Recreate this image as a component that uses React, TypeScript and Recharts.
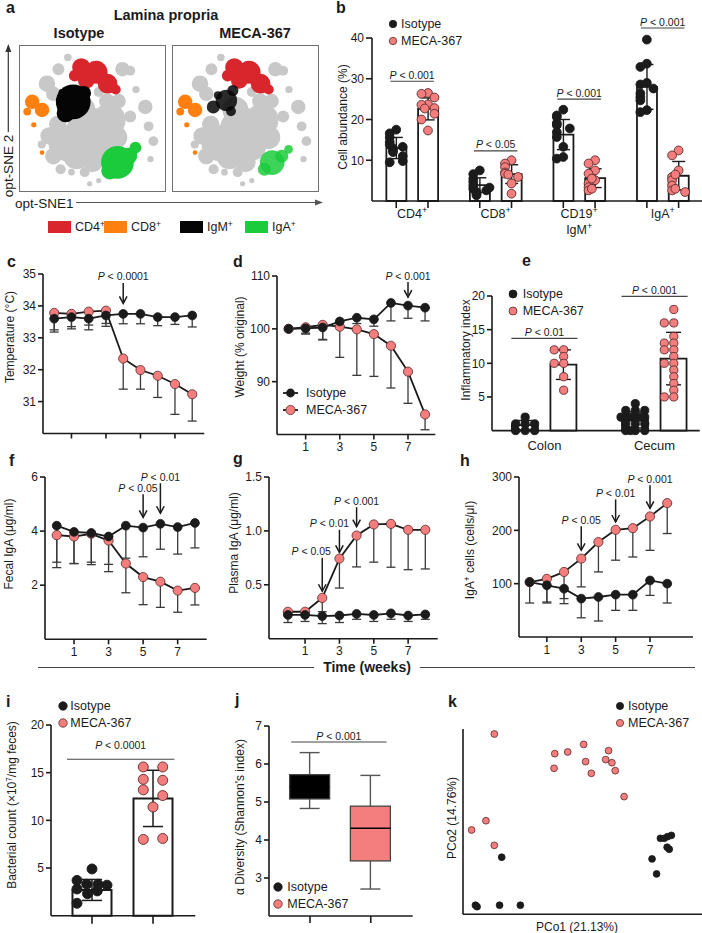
import React from 'react';
import {
  ComposedChart, ScatterChart, Line, Bar, Scatter, XAxis, YAxis, ZAxis,
  ErrorBar, ReferenceLine, ReferenceDot,
} from 'recharts';

const FONT = '"Liberation Sans", Arial, Helvetica, sans-serif';
const INK = '#1b1b1b';
const PINK = '#f47e7e';
const PINK_EDGE = '#5c2b2b';
const ERR = '#3a3a3a';
const SNE_GREY = '#c8c8c8';
const SNE_RED = '#d9262c';
const SNE_ORANGE = '#ff7f0f';
const SNE_BLACK = '#050505';
const SNE_GREEN = '#1ccb3c';

// ================= DATA =================
// ---- a: opt-SNE cluster read-outs (map units 0-100, r = cluster radius) ----
const sneGrey = [
  { x: 48, y: 42, r: 15.8 }, { x: 32, y: 33, r: 12.4 }, { x: 61.5, y: 49, r: 11.3 }, { x: 43, y: 56, r: 9 },
  { x: 39, y: 24, r: 9 }, { x: 23, y: 24, r: 5.7 }, { x: 55, y: 30, r: 9 }, { x: 20, y: 38, r: 6 },
  { x: 66, y: 37, r: 8 }, { x: 50, y: 20, r: 7 }, { x: 26.5, y: 84, r: 4.1 }, { x: 18.6, y: 74, r: 5.7 },
  { x: 23, y: 67, r: 5 }, { x: 70.6, y: 84, r: 5 }, { x: 76, y: 83, r: 3.4 }, { x: 86.4, y: 58, r: 5 },
  { x: 88.7, y: 44.6, r: 3.4 }, { x: 76, y: 51.4, r: 4.1 }, { x: 92, y: 34.4, r: 3.4 }, { x: 44.6, y: 13, r: 3.4 },
  { x: 48, y: 5, r: 1.8 }, { x: 35.5, y: 13, r: 2.3 }, { x: 54.3, y: 68.3, r: 3.4 }, { x: 54.3, y: 7.2, r: 1.8 },
  { x: 68, y: 62, r: 5 }, { x: 80, y: 70, r: 2.5 }, { x: 28, y: 15, r: 3.5 }, { x: 60, y: 62, r: 5.5 },
  { x: 15, y: 32, r: 2.8 }, { x: 90, y: 22, r: 2.2 }, { x: 33, y: 92, r: 2.6 }, { x: 26, y: 46, r: 6 },
];
const sneRed = [
  { x: 42.3, y: 85.3, r: 6.3 }, { x: 52.5, y: 81.9, r: 7.9 }, { x: 60.4, y: 74, r: 6.8 },
  { x: 45.7, y: 76.2, r: 5.7 }, { x: 37.8, y: 79.6, r: 4.1 }, { x: 66, y: 70, r: 3.5 },
];
const sneOrange = [
  { x: 8.4, y: 61.5, r: 5 }, { x: 15.2, y: 55.9, r: 5 }, { x: 5, y: 54.8, r: 2.7 },
  { x: 9.5, y: 45.7, r: 1.8 }, { x: 15.2, y: 26.5, r: 1.6 },
];
const sneBlackIso = [
  { x: 36.7, y: 61.5, r: 12 }, { x: 44, y: 67.5, r: 5 }, { x: 31.5, y: 53.6, r: 6.2 }, { x: 29, y: 68, r: 2.4 },
];
const sneBlackMeca = [
  { x: 36.8, y: 62.5, r: 7.4 }, { x: 27.8, y: 58, r: 4.5 }, { x: 41.3, y: 69.3, r: 3.8 },
  { x: 31, y: 66, r: 2.8 }, { x: 40, y: 55, r: 3.4 },
];
const sneGreenIso = [
  { x: 67.2, y: 19.7, r: 11.3 }, { x: 75.1, y: 24.2, r: 5.7 }, { x: 79.6, y: 29.9, r: 4.1 }, { x: 62, y: 14, r: 6 },
];
const sneGreenMeca = [
  { x: 68.4, y: 19.6, r: 8.5 }, { x: 75, y: 24, r: 4.5 }, { x: 79.7, y: 28.7, r: 3 }, { x: 63, y: 15, r: 4.5 },
];
const sneLegend = ['CD4', 'CD8', 'IgM', 'IgA'];

// ---- b: cell abundance (%) ----
const bCategories = ['CD4', 'CD8', 'CD19/IgM', 'IgA'];
const bIsoMean = [13.0, 3.9, 16.3, 28.0];
const bIsoSd = [2.6, 1.8, 3.7, 5.5];
const bMecaMean = [22.6, 6.6, 5.6, 6.2];
const bMecaSd = [2.7, 2.3, 2.3, 3.5];
const bIsoPoints = [
  [17.5, 16.6, 15.6, 14.5, 13.8, 13.3, 12.9, 12.5, 12.0, 11.0, 9.5, 9.8],
  [7.5, 6.6, 5.5, 4.7, 3.8, 3.0, 2.6, 2.2, 1.8, 1.4, 3.3],
  [22.4, 21.0, 20.6, 19.1, 18.6, 17.8, 16.9, 15.7, 13.3, 10.8, 10.4],
  [39.6, 33.7, 32.9, 29.0, 28.6, 27.6, 26.4, 25.5, 24.7, 22.3, 21.8],
];
const bMecaPoints = [
  [26.5, 26.3, 25.4, 23.7, 23.6, 22.8, 22.7, 21.4, 20.0, 17.3],
  [10.0, 9.2, 8.3, 7.0, 6.7, 5.9, 4.3, 1.8, 6.5],
  [10.0, 9.2, 7.5, 6.7, 5.1, 4.3, 3.4, 2.6, 5.5, 3.0],
  [12.4, 11.2, 7.5, 5.9, 5.1, 3.8, 2.6, 2.2, 3.0, 6.5],
];
const bBrackets = [
  { g: 0, y: 29.4, p: '0.001' }, { g: 1, y: 12.3, p: '0.05' },
  { g: 2, y: 25.0, p: '0.001' }, { g: 3, y: 42.45, p: '0.001' },
];

// ---- c-h: weekly time courses ----
const weeks = [0, 1, 2, 3, 4, 5, 6, 7, 8];
const weekTicks = [1, 3, 5, 7];

const tempIso = [33.6, 33.65, 33.6, 33.7, 33.75, 33.75, 33.65, 33.65, 33.7];
const tempIsoLow = [33.18, 33.28, 33.25, 33.36, 33.44, 33.44, 33.38, 33.42, 33.34];
const tempMeca = [33.78, 33.75, 33.82, 33.85, 32.35, 31.99, 31.81, 31.55, 31.23];
const tempMecaLow = [33.25, 33.35, 33.4, 33.45, 31.39, 31.39, 31.13, 30.6, 30.39];
const tempAnn = [{ x: 4, tail: 34.72, tip: 34.08, p: '0.0001' }];

const weightIso = [100, 100.1, 100.25, 101.4, 102.1, 101.8, 104.9, 104.4, 104.0];
const weightIsoLow = [100, 99.0, 97.9, 100.5, 101.0, 100.5, 101.5, 102.0, 101.5];
const weightMeca = [100, 100.3, 100.75, 100.4, 99.9, 99.0, 96.8, 91.9, 83.8];
const weightMecaLow = [100, 99.2, 98.0, 94.6, 91.2, 91.0, 88.8, 85.9, 80.9];
const weightAnn = [{ x: 7, tail: 108.86, tip: 106.0, p: '0.001' }];

const fecalIso = [4.2, 3.97, 3.93, 3.8, 4.2, 4.13, 4.27, 4.15, 4.3];
const fecalIsoLow = [2.65, 2.8, 2.85, 2.5, 3.0, 3.05, 3.33, 3.15, 3.38];
const fecalMeca = [3.85, 3.8, 3.9, 3.65, 2.8, 2.3, 2.13, 1.8, 1.9];
const fecalMecaLow = [2.85, 2.8, 2.76, 2.77, 1.72, 1.28, 1.18, 1.0, 1.27];
const fecalAnn = [
  { x: 5, tail: 5.36, tip: 4.51, p: '0.05', tx: 4.7 },
  { x: 6, tail: 5.77, tip: 4.66, p: '0.01' },
];

const plasmaIso = [0.22, 0.22, 0.21, 0.215, 0.23, 0.22, 0.235, 0.215, 0.225];
const plasmaIsoLow = [0.15, 0.16, 0.14, 0.15, 0.18, 0.16, 0.18, 0.16, 0.18];
const plasmaMeca = [0.25, 0.25, 0.378, 0.743, 0.957, 1.06, 1.065, 1.01, 1.01];
const plasmaMecaLow = [0.22, 0.22, 0.25, 0.47, 0.666, 0.71, 0.663, 0.64, 0.647];
const plasmaAnn = [
  { x: 2, tail: 0.75, tip: 0.44, p: '0.05', tx: 1.36 },
  { x: 3, tail: 1.01, tip: 0.8, p: '0.01', tx: 2.42 },
  { x: 4, tail: 1.22, tip: 1.04, p: '0.001' },
];

const cellsIso = [103, 97, 90.6, 72, 75, 79.4, 79.4, 106, 100];
const cellsIsoLow = [63.75, 63.75, 62.5, 36, 30, 50, 50, 78, 63.75];
const cellsMeca = [103, 109, 122, 147, 178, 201, 204, 226, 251];
const cellsMecaLow = [103, 65.6, 72, 94, 122, 144, 150, 162.5, 194];
const cellsAnn = [
  { x: 3, tail: 207.6, tip: 162.6, p: '0.05' },
  { x: 5, tail: 258, tip: 215.6, p: '0.01' },
  { x: 7, tail: 284.4, tip: 241.3, p: '0.001' },
];

// ---- e: inflammatory index ----
const eCategories = ['Colon', 'Cecum'];
const eIsoMean = [0.8, 1.6];
const eIsoSd = [0.7, 1.2];
const eMecaMean = [9.8, 10.7];
const eMecaSd = [2.2, 3.9];
const eIsoPoints = [
  [2, 1, 1, 1, 0, 0, 0],
  [4, 3, 3, 3, 2, 2, 2, 2, 2, 1, 1, 1, 0, 0, 0, 0, 2],
];
const eMecaPoints = [
  [12, 12, 11, 10, 10, 8, 6],
  [18, 16, 16, 14, 13, 13, 12, 12, 11, 10, 10, 9, 8, 7, 6, 5, 5],
];
const eBrackets = [{ g: 0, y: 13.7, p: '0.01' }, { g: 1, y: 19.95, p: '0.001' }];

// ---- i: bacterial count ----
const iGroups = ['Isotype', 'MECA-367'];
const iMean = [2.7, 12.3];
const iSd = [1.1, 2.95];
const iPoints = [
  [4.9, 3.7, 3.3, 3.3, 3.2, 2.8, 2.6, 2.3, 1.3],
  [15.6, 15.6, 14.3, 14.2, 13.2, 12.6, 11.4, 8.0, 8.1],
];
const iBracket = { from: -0.41, to: 1.35, y: 16.4, p: '0.0001' };

// ---- j: alpha diversity box plot ----
const jGroups = ['Isotype', 'MECA-367'];
const jMin = [4.83, 2.71];
const jQ1 = [5.08, 3.45];
const jMed = [5.4, 4.31];
const jQ3 = [5.72, 4.89];
const jMax = [6.3, 5.7];
const jBracket = { from: -0.31, to: 1.26, y: 6.58, p: '0.001' };

// ---- k: PCoA ----
const kMeca = [
  { x: 13.1, y: 97.3 }, { x: 38.4, y: 86.7 }, { x: 43.8, y: 87.6 }, { x: 50.5, y: 91.7 }, { x: 60.9, y: 88.3 },
  { x: 38.1, y: 78.8 }, { x: 51.3, y: 82.4 }, { x: 59.7, y: 83.5 }, { x: 62.3, y: 81.8 }, { x: 53.7, y: 76.1 },
  { x: 63.7, y: 77.5 }, { x: 67.4, y: 63.5 }, { x: 9.6, y: 50.5 }, { x: 3.6, y: 45.5 }, { x: 13.1, y: 37.2 },
];
const kIso = [
  { x: 16.2, y: 30.8 }, { x: 5.2, y: 4.9 }, { x: 5.9, y: 4.1 }, { x: 15.3, y: 4.9 }, { x: 24.0, y: 4.9 },
  { x: 79.1, y: 29.9 }, { x: 81.0, y: 21.8 }, { x: 82.6, y: 41.0 }, { x: 84.2, y: 41.0 }, { x: 85.6, y: 41.9 },
  { x: 87.2, y: 42.6 }, { x: 85.4, y: 36.2 }, { x: 86.3, y: 35.1 },
];

const seriesNames = ['Isotype', 'MECA-367'];

// ================= STYLE HELPERS =================
const AX = { stroke: INK, strokeWidth: 1.6 };
const TICK = { fontSize: 12, fill: INK };
const SLOT = [0, -1, 1, -0.5, 0.5, -1.5, 1.5, -2, 2];
const I_JITTER = [[0, -1, -0.35, 0.4, 1, -1, 0.35, -0.3, -1], [-1, 1, -1, 1, -1, 1, 0, -1, 1]];

function frameOf(rect: number[], p: any = {}) {
  const [x0, y0, x1, y1] = rect;
  const l = p.l ?? 40, t = p.t ?? 16, r = p.r ?? 12, b = p.b ?? 30;
  return {
    style: { position: 'absolute', left: x0 - l, top: y0 - t, width: x1 - x0 + l + r, height: y1 - y0 + t + b } as React.CSSProperties,
    width: x1 - x0 + l + r, height: y1 - y0 + t + b,
    margin: { top: t, right: r, left: 0, bottom: 0 }, yw: l, xh: b,
  };
}

function swarmSlots(vals: number[], thr: number) {
  return vals.map((v, i) => vals.slice(0, i).filter((u) => Math.abs(u - v) < thr).length);
}
function pointRows(groups: number[][], off: number, thr: number) {
  return groups.flatMap((vals, g) => {
    const s = swarmSlots(vals, thr);
    return vals.map((v, i) => ({ x: g + off, y: v, slot: s[i], k: i, g }));
  });
}
const swarmDot = (fill: string, stroke: string, r: number, step: number) => (p: any) => (
  <circle cx={p.cx + SLOT[p.payload.slot % SLOT.length] * step} cy={p.cy} r={r} fill={fill} stroke={stroke} strokeWidth={0.9} />
);
const jitterDot = (fill: string, stroke: string, r: number, step: number) => (p: any) => {
  const pat = I_JITTER[p.payload.g];
  return <circle cx={p.cx + pat[p.payload.k % pat.length] * step} cy={p.cy} r={r} fill={fill} stroke={stroke} strokeWidth={0.9} />;
};
const plainDot = (fill: string, stroke: string, r: number) => (p: any) => (
  <circle cx={p.cx} cy={p.cy} r={r} fill={fill} stroke={stroke} strokeWidth={0.8} />
);

const pLabel = (p: string, dy: number, size = 10.5) => (s: any) => (
  <text x={s.cx} y={s.cy + dy} textAnchor="middle" fontSize={size} fill={INK}>
    <tspan fontStyle="italic">P</tspan>
    <tspan>{' < ' + p}</tspan>
  </text>
);
const arrowHead = (s: any) => (
  <polyline points={`${s.cx - 3.8},${s.cy - 7} ${s.cx},${s.cy} ${s.cx + 3.8},${s.cy - 7}`} fill="none" stroke={INK} strokeWidth={1.5} />
);

function arrowAnn(list: any[], key: string) {
  return list.flatMap((a, i) => [
    <ReferenceLine key={key + 'l' + i} segment={[{ x: a.x, y: a.tail }, { x: a.x, y: a.tip }]} stroke={INK} strokeWidth={1.5} ifOverflow="visible" />,
    <ReferenceDot key={key + 'h' + i} x={a.x} y={a.tip} ifOverflow="visible" shape={arrowHead} />,
    <ReferenceDot key={key + 't' + i} x={a.tx ?? a.x} y={a.tail} ifOverflow="visible" shape={pLabel(a.p, -2.5)} />,
  ]);
}
function bracketAnn(from: number, to: number, y: number, p: string, dy: number, key: string) {
  return [
    <ReferenceLine key={key + 'l'} segment={[{ x: from, y }, { x: to, y }]} stroke="#444" strokeWidth={1.1} ifOverflow="visible" />,
    <ReferenceDot key={key + 't'} x={(from + to) / 2} y={y} ifOverflow="visible" shape={pLabel(p, dy)} />,
  ];
}

// ================= HTML TEXT HELPERS =================
function Txt({ x, base, size = 12, anchor = 'start', bold = false, children }: any) {
  return (
    <div style={{
      position: 'absolute', left: x, top: base - 0.8465 * size, fontSize: size, lineHeight: `${size}px`,
      fontWeight: bold ? 700 : 400, whiteSpace: 'nowrap', transform: anchor === 'middle' ? 'translateX(-50%)' : undefined,
    }}>{children}</div>
  );
}
function VLabel({ cx, cy, size = 12, children }: any) {
  return (
    <div style={{
      position: 'absolute', left: cx, top: cy, fontSize: size, lineHeight: `${size}px`, whiteSpace: 'nowrap',
      transform: 'translate(-50%, -50%) rotate(-90deg)',
    }}>{children}</div>
  );
}
const Sup = ({ children }: any) => (
  <span style={{ fontSize: '0.68em', position: 'relative', top: '-0.5em' }}>{children}</span>
);
function Letter({ x, base, ch }: any) {
  return <Txt x={x} base={base} size={16} bold>{ch}</Txt>;
}
function DotLegend({ cx, cy, gap, textDx, r, size = 12.5 }: any) {
  return (
    <>
      {seriesNames.map((n, i) => (
        <React.Fragment key={n}>
          <svg style={{ position: 'absolute', left: cx - 8, top: cy + i * gap - 8 }} width={16} height={16}>
            <circle cx={8} cy={8} r={r} fill={i === 0 ? INK : PINK} stroke={i === 0 ? INK : PINK_EDGE} strokeWidth={0.8} />
          </svg>
          <Txt x={cx + textDx} base={cy + i * gap + 0.36 * size} size={size}>{n}</Txt>
        </React.Fragment>
      ))}
    </>
  );
}

// ================= PANELS =================
function SneMap({ left, black, green, fade }: any) {
  const rows = (arr: any[]) => arr.map((d) => ({ x: d.x, y: d.y, z: d.r * d.r }));
  return (
    <div style={{ position: 'absolute', left, top: 45, width: 147, height: 147, border: '1px solid #707070', boxSizing: 'border-box' }}>
      <ScatterChart width={145} height={145} margin={{ top: 0, right: 0, bottom: 0, left: 0 }}>
        <XAxis type="number" dataKey="x" domain={[0, 100]} hide />
        <YAxis type="number" dataKey="y" domain={[0, 100]} hide />
        <ZAxis type="number" dataKey="z" domain={[0, 400]} range={[0, 400 * 6.6]} />
        <Scatter data={rows(sneGrey)} fill={SNE_GREY} isAnimationActive={false} />
        <Scatter data={rows(sneRed)} fill={SNE_RED} isAnimationActive={false} />
        <Scatter data={rows(sneOrange)} fill={SNE_ORANGE} isAnimationActive={false} />
        <Scatter data={rows(black)} fill={SNE_BLACK} fillOpacity={fade} isAnimationActive={false} />
        <Scatter data={rows(green)} fill={SNE_GREEN} fillOpacity={fade} isAnimationActive={false} />
      </ScatterChart>
    </div>
  );
}

function PanelA() {
  const legendX = [48, 104, 180, 245];
  const legendColors = [SNE_RED, SNE_ORANGE, SNE_BLACK, SNE_GREEN];
  return (
    <>
      <Letter x={6} base={14} ch="a" />
      <Txt x={166} base={20.7} size={14.5} bold anchor="middle">Lamina propria</Txt>
      <Txt x={79} base={38.3} size={14.5} bold anchor="middle">Isotype</Txt>
      <Txt x={255} base={38.3} size={14.5} bold anchor="middle">MECA-367</Txt>
      <SneMap left={19} black={sneBlackIso} green={sneGreenIso} fade={1} />
      <SneMap left={172} black={sneBlackMeca} green={sneGreenMeca} fade={0.85} />
      <svg style={{ position: 'absolute', left: 0, top: 0 }} width={330} height={215}>
        <line x1={8.3} y1={132} x2={8.3} y2={49} stroke="#333" strokeWidth={1.2} />
        <polygon points="8.3,44 5.3,52 11.3,52" fill="#333" />
        <line x1={76} y1={202.5} x2={318} y2={202.5} stroke="#555" strokeWidth={1.2} />
        <polygon points="323,202.5 315,199.5 315,205.5" fill="#555" />
      </svg>
      <VLabel cx={8.5} cy={166} size={13.5}>opt-SNE 2</VLabel>
      <Txt x={15} base={208} size={13.5}>opt-SNE1</Txt>
      {sneLegend.map((n, i) => (
        <React.Fragment key={n}>
          <div style={{ position: 'absolute', left: legendX[i], top: 221, width: 23, height: 12, background: legendColors[i] }} />
          <Txt x={legendX[i] + 27} base={231.5} size={12.5}>{n}<Sup>+</Sup></Txt>
        </React.Fragment>
      ))}
    </>
  );
}

function PanelB() {
  const f = frameOf([372, 37.7, 702, 200.7], { t: 40, r: 4, b: 42 });
  const OFF = 0.19;
  const rows = bCategories.flatMap((_, g) => [
    { x: g - OFF, mean: bIsoMean[g], sd: bIsoSd[g] },
    { x: g + OFF, mean: bMecaMean[g], sd: bMecaSd[g] },
  ]);
  const labelShape = (lines: string[]) => (s: any) => (
    <g>
      {lines.map((ln, li) => (
        <text key={li} x={s.cx} y={s.cy + 17 + li * 16} textAnchor="middle" fontSize={12.5} fill={INK}>
          {ln}<tspan dy={-5} fontSize={9}>+</tspan>
        </text>
      ))}
    </g>
  );
  return (
    <div style={f.style}>
      <ComposedChart width={f.width} height={f.height} margin={f.margin} data={rows}>
        <XAxis type="number" dataKey="x" domain={[-0.48, 3.47]} ticks={rows.map((r) => r.x)} interval={0}
          tickSize={7} tickFormatter={() => ''} height={f.xh} axisLine={AX} tickLine={AX} />
        <YAxis type="number" domain={[0, 40]} ticks={[10, 20, 30, 40]} interval={0} width={f.yw}
          tickSize={6} axisLine={AX} tickLine={AX} tick={TICK} />
        <Bar dataKey="mean" barSize={20} fill="#fff" stroke={INK} strokeWidth={1.8} isAnimationActive={false}>
          <ErrorBar dataKey="sd" direction="y" width={6.5} stroke={INK} strokeWidth={1.4} />
        </Bar>
        <Scatter data={pointRows(bIsoPoints, -OFF, 1.6)} dataKey="y" isAnimationActive={false} shape={swarmDot(INK, INK, 4.4, 6.5)} />
        <Scatter data={pointRows(bMecaPoints, OFF, 1.6)} dataKey="y" isAnimationActive={false} shape={swarmDot(PINK, PINK_EDGE, 4.4, 6.5)} />
        {bBrackets.flatMap((br, i) => bracketAnn(br.g - 0.26, br.g + 0.26, br.y, br.p, -2.5, 'b' + i))}
        {bCategories.map((c, g) => (
          <ReferenceDot key={'bc' + g} x={g} y={0} ifOverflow="visible" shape={labelShape(c.split('/'))} />
        ))}
      </ComposedChart>
    </div>
  );
}

function TimeCourse({ rect, xDomain, yDomain, yTicks, fmt, iso, isoLow, meca, mecaLow, ann, xLabels, id }: any) {
  const f = frameOf(rect, {});
  const rows = weeks.map((w, i) => ({
    x: w, iso: iso[i], isoErr: [iso[i] - isoLow[i], 0], meca: meca[i], mecaErr: [meca[i] - mecaLow[i], 0],
  }));
  return (
    <div style={f.style}>
      <ComposedChart width={f.width} height={f.height} margin={f.margin} data={rows}>
        <XAxis type="number" dataKey="x" domain={xDomain} ticks={weekTicks} interval={0} tickSize={5} tickMargin={3}
          height={f.xh} axisLine={AX} tickLine={AX} tick={TICK} tickFormatter={xLabels ? undefined : () => ''} />
        <YAxis type="number" domain={yDomain} ticks={yTicks} interval={0} width={f.yw} tickSize={5} tickMargin={2}
          axisLine={AX} tickLine={AX} tick={TICK} tickFormatter={fmt} />
        <Line dataKey="meca" stroke={INK} strokeWidth={1.8} isAnimationActive={false} activeDot={false}
          dot={{ r: 4.6, fill: PINK, stroke: PINK_EDGE, strokeWidth: 0.8 }}>
          <ErrorBar dataKey="mecaErr" direction="y" width={4.5} stroke={ERR} strokeWidth={1.3} />
        </Line>
        <Line dataKey="iso" stroke={INK} strokeWidth={1.8} isAnimationActive={false} activeDot={false}
          dot={{ r: 4.4, fill: INK, stroke: INK, strokeWidth: 0.8 }}>
          <ErrorBar dataKey="isoErr" direction="y" width={4.5} stroke={ERR} strokeWidth={1.3} />
        </Line>
        {arrowAnn(ann, id)}
      </ComposedChart>
    </div>
  );
}

function PanelE() {
  const f = frameOf([492.3, 295.7, 700, 430.3], { r: 2 });
  const OFF = 0.175;
  const rows = eCategories.flatMap((_, g) => [
    { x: g - OFF, mean: eIsoMean[g], sd: eIsoSd[g] },
    { x: g + OFF, mean: eMecaMean[g], sd: eMecaSd[g] },
  ]);
  const labelShape = (t: string) => (s: any) => (
    <text x={s.cx} y={s.cy + 19} textAnchor="middle" fontSize={13} fill={INK}>{t}</text>
  );
  return (
    <div style={f.style}>
      <ComposedChart width={f.width} height={f.height} margin={f.margin} data={rows}>
        <XAxis type="number" dataKey="x" domain={[-0.476, 1.41]} ticks={[]} tick={false} tickLine={false} height={f.xh} axisLine={AX} />
        <YAxis type="number" domain={[0, 20]} ticks={[5, 10, 15, 20]} interval={0} width={f.yw} tickSize={5}
          axisLine={AX} tickLine={AX} tick={TICK} />
        <Bar dataKey="mean" barSize={26} fill="#fff" stroke={INK} strokeWidth={1.8} isAnimationActive={false}>
          <ErrorBar dataKey="sd" direction="y" width={7.5} stroke={INK} strokeWidth={1.4} />
        </Bar>
        <Scatter data={pointRows(eIsoPoints, -OFF, 0.6)} dataKey="y" isAnimationActive={false} shape={swarmDot(INK, INK, 4.1, 9.5)} />
        <Scatter data={pointRows(eMecaPoints, OFF, 0.6)} dataKey="y" isAnimationActive={false} shape={swarmDot(PINK, PINK_EDGE, 4.1, 9.5)} />
        {eBrackets.flatMap((br, i) => bracketAnn(br.g - 0.3, br.g + 0.3, br.y, br.p, -2.5, 'e' + i))}
        {eCategories.map((c, g) => (
          <ReferenceDot key={'ec' + g} x={g} y={0} ifOverflow="visible" shape={labelShape(c)} />
        ))}
      </ComposedChart>
    </div>
  );
}

function PanelI() {
  const f = frameOf([50.7, 725, 195, 915.7], { r: 4 });
  const rows = iGroups.map((_, g) => ({ x: g, mean: iMean[g], sd: iSd[g] }));
  const isoRows = pointRows([iPoints[0]], 0, 0);
  const mecaRows = pointRows([iPoints[1]], 1, 0).map((r) => ({ ...r, x: 1, g: 1 }));
  return (
    <div style={f.style}>
      <ComposedChart width={f.width} height={f.height} margin={f.margin} data={rows}>
        <XAxis type="number" dataKey="x" domain={[-0.672, 1.693]} ticks={[0, 1]} interval={0} tickSize={8}
          tickFormatter={() => ''} height={f.xh} axisLine={AX} tickLine={AX} />
        <YAxis type="number" domain={[0, 20]} ticks={[5, 10, 15, 20]} interval={0} width={f.yw} tickSize={5}
          axisLine={AX} tickLine={AX} tick={TICK} />
        <Bar dataKey="mean" barSize={39} fill="#fff" stroke={INK} strokeWidth={2} isAnimationActive={false}>
          <ErrorBar dataKey="sd" direction="y" width={10} stroke={INK} strokeWidth={1.5} />
        </Bar>
        <Scatter data={isoRows} dataKey="y" isAnimationActive={false} shape={jitterDot(INK, INK, 5, 15)} />
        <Scatter data={mecaRows} dataKey="y" isAnimationActive={false} shape={jitterDot(PINK, PINK_EDGE, 5, 9.7)} />
        {bracketAnn(iBracket.from, iBracket.to, iBracket.y, iBracket.p, -10, 'i')}
      </ComposedChart>
    </div>
  );
}

function BoxShape(p: any) {
  const { x, y, width, height, payload } = p;
  const top = Math.min(y, y + height);
  const h = Math.abs(height);
  const k = h / (payload.q3 - payload.q1);
  const py = (v: number) => top + (payload.q3 - v) * k;
  const cx = x + width / 2;
  const iso = payload.g === 0;
  const cap = 10;
  return (
    <g>
      <line x1={cx} y1={py(payload.max)} x2={cx} y2={py(payload.q3)} stroke="#555" strokeWidth={1.4} />
      <line x1={cx} y1={py(payload.q1)} x2={cx} y2={py(payload.min)} stroke="#555" strokeWidth={1.4} />
      <line x1={cx - cap} y1={py(payload.max)} x2={cx + cap} y2={py(payload.max)} stroke="#555" strokeWidth={1.4} />
      <line x1={cx - cap} y1={py(payload.min)} x2={cx + cap} y2={py(payload.min)} stroke="#555" strokeWidth={1.4} />
      <rect x={x} y={top} width={width} height={h} fill={iso ? '#000' : PINK} stroke="#444" strokeWidth={1.3} />
      <line x1={x} y1={py(payload.med)} x2={x + width} y2={py(payload.med)} stroke="#000" strokeWidth={1.4} />
    </g>
  );
}

function PanelJ() {
  const f = frameOf([269, 725.7, 412.7, 915.7], { r: 4 });
  const rows = jGroups.map((_, g) => ({
    x: g, g, box: [jQ1[g], jQ3[g]], q1: jQ1[g], q3: jQ3[g], med: jMed[g], min: jMin[g], max: jMax[g],
  }));
  return (
    <div style={f.style}>
      <ComposedChart width={f.width} height={f.height} margin={f.margin} data={rows}>
        <XAxis type="number" dataKey="x" domain={[-0.675, 1.69]} ticks={[0, 1]} interval={0} tickSize={7}
          tickFormatter={() => ''} height={f.xh} axisLine={AX} tickLine={AX} />
        <YAxis type="number" domain={[2, 7]} ticks={[3, 4, 5, 6, 7]} interval={0} width={f.yw} tickSize={5}
          axisLine={AX} tickLine={AX} tick={TICK} />
        <Bar dataKey="box" barSize={40} isAnimationActive={false} shape={BoxShape} />
        {bracketAnn(jBracket.from, jBracket.to, jBracket.y, jBracket.p, -2, 'j')}
      </ComposedChart>
    </div>
  );
}

function PanelK() {
  const f = frameOf([462.7, 729, 701.7, 914.3], { l: 10, r: 0, b: 10 });
  return (
    <div style={f.style}>
      <ScatterChart width={f.width} height={f.height} margin={f.margin}>
        <XAxis type="number" dataKey="x" domain={[0, 100]} tick={false} tickLine={false} height={f.xh} axisLine={AX} />
        <YAxis type="number" dataKey="y" domain={[0, 100]} tick={false} tickLine={false} width={f.yw} axisLine={AX} />
        <Scatter data={kMeca} isAnimationActive={false} shape={plainDot(PINK, PINK_EDGE, 3.4)} />
        <Scatter data={kIso} isAnimationActive={false} shape={plainDot(INK, INK, 3.4)} />
      </ScatterChart>
    </div>
  );
}

export default function App() {
  return (
    <div style={{
      position: 'absolute', left: 0, top: 0, width: 702, height: 933, overflow: 'hidden',
      background: '#fff', fontFamily: FONT, color: INK,
    }}>
      <PanelA />

      <Letter x={336} base={14} ch="b" />
      <PanelB />
      <VLabel cx={343} cy={117}>Cell abundance (%)</VLabel>
      <DotLegend cx={393} cy={24} gap={17} textDx={8} r={3.7} />

      <Letter x={7} base={268} ch="c" />
      <TimeCourse id="c" rect={[42.7, 274, 204, 433.5]} xDomain={[-0.65, 8.7]} yDomain={[30, 35]} yTicks={[31, 32, 33, 34, 35]}
        iso={tempIso} isoLow={tempIsoLow} meca={tempMeca} mecaLow={tempMecaLow} ann={tempAnn} xLabels={false} />
      <VLabel cx={10} cy={337}>Temperature (°C)</VLabel>

      <Letter x={233} base={268} ch="d" />
      <TimeCourse id="d" rect={[276.7, 276, 435, 434.5]} xDomain={[-0.68, 8.6]} yDomain={[80, 110]} yTicks={[90, 100, 110]}
        iso={weightIso} isoLow={weightIsoLow} meca={weightMeca} mecaLow={weightMecaLow} ann={weightAnn} xLabels />
      <VLabel cx={240} cy={347}>Weight (% original)</VLabel>
      <svg style={{ position: 'absolute', left: 280, top: 385 }} width={24} height={34}>
        <line x1={3} y1={8} x2={18} y2={8} stroke={INK} strokeWidth={1.8} />
        <circle cx={10.5} cy={8} r={4.4} fill={INK} />
        <line x1={3} y1={25} x2={18} y2={25} stroke={INK} strokeWidth={1.8} />
        <circle cx={10.5} cy={25} r={4.6} fill={PINK} stroke={PINK_EDGE} strokeWidth={0.8} />
      </svg>
      <Txt x={306} base={397.5} size={12.5}>{seriesNames[0]}</Txt>
      <Txt x={306} base={414.5} size={12.5}>{seriesNames[1]}</Txt>

      <Letter x={522} base={267} ch="e" />
      <PanelE />
      <VLabel cx={466} cy={350}>Inflammatory index</VLabel>
      <DotLegend cx={512.7} cy={294} gap={16.7} textDx={10} r={4} />

      <Letter x={9} base={467} ch="f" />
      <TimeCourse id="f" rect={[45, 476.7, 206.7, 639]} xDomain={[-0.68, 8.68]} yDomain={[0, 6]} yTicks={[2, 4, 6]}
        iso={fecalIso} isoLow={fecalIsoLow} meca={fecalMeca} mecaLow={fecalMecaLow} ann={fecalAnn} xLabels />
      <VLabel cx={9} cy={544}>Fecal IgA (μg/ml)</VLabel>

      <Letter x={233} base={465} ch="g" />
      <TimeCourse id="g" rect={[269.3, 477.3, 438, 639]} xDomain={[-1.1, 8.72]} yDomain={[0, 1.5]} yTicks={[0.5, 1.0, 1.5]}
        fmt={(v: number) => v.toFixed(1)}
        iso={plasmaIso} isoLow={plasmaIsoLow} meca={plasmaMeca} mecaLow={plasmaMecaLow} ann={plasmaAnn} xLabels />
      <VLabel cx={234} cy={543}>Plasma IgA (μg/ml)</VLabel>

      <Letter x={460} base={467} ch="h" />
      <TimeCourse id="h" rect={[519.3, 476.7, 693.3, 636.7]} xDomain={[-0.62, 9.5]} yDomain={[0, 300]} yTicks={[100, 200, 300]}
        iso={cellsIso} isoLow={cellsIsoLow} meca={cellsMeca} mecaLow={cellsMecaLow} ann={cellsAnn} xLabels />
      <VLabel cx={471} cy={550}>IgA<Sup>+</Sup> cells (cells/μl)</VLabel>

      <div style={{ position: 'absolute', left: 38, top: 667, width: 657, height: 0, borderTop: '1.5px solid #444' }} />
      <div style={{ position: 'absolute', left: 367, top: 658, transform: 'translateX(-50%)', background: '#fff', padding: '0 9px',
        fontSize: 14, fontWeight: 700, lineHeight: '18px', whiteSpace: 'nowrap' }}>Time (weeks)</div>

      <Letter x={6} base={708} ch="i" />
      <PanelI />
      <VLabel cx={13} cy={805}>Bacterial count (×10<Sup>7</Sup>/mg feces)</VLabel>
      <DotLegend cx={63.3} cy={706} gap={16.7} textDx={7} r={4.2} />

      <Letter x={235} base={706} ch="j" />
      <PanelJ />
      <VLabel cx={240} cy={817}>α Diversity (Shannon's index)</VLabel>
      <DotLegend cx={278.3} cy={886.7} gap={17.3} textDx={9} r={4.2} />

      <Letter x={448} base={708} ch="k" />
      <PanelK />
      <VLabel cx={452} cy={818}>PCo2 (14.76%)</VLabel>
      <Txt x={577} base={931} size={12} anchor="middle">PCo1 (21.13%)</Txt>
      <DotLegend cx={620} cy={706} gap={16.7} textDx={8} r={3.6} />
    </div>
  );
}
